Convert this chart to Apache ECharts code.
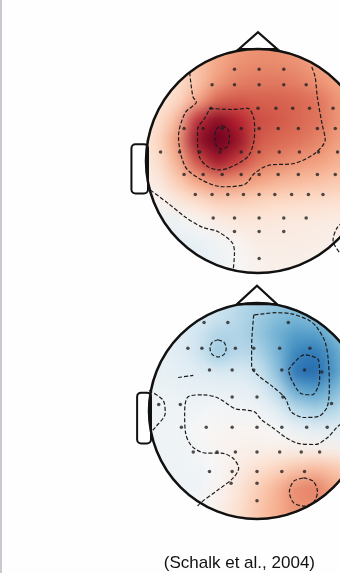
<!DOCTYPE html>
<html>
<head>
<meta charset="utf-8">
<script src="https://cdn.jsdelivr.net/npm/echarts@6/dist/echarts.min.js"></script>
<style>
  html, body { margin: 0; padding: 0; background: #fefefe; overflow: hidden; }
  #page { position: relative; width: 340px; height: 573px; overflow: hidden; }
  #page::before { content: ''; position: absolute; left: 0; top: 0; bottom: 0; width: 2px; background: #c9c9d1; z-index: 5; }
  .layer { position: absolute; left: 0; top: 0; height: 573px; }
  .field { width: 420px; }
  #overlay { width: 340px; }
</style>
</head>
<body>
<div id="page">
  <div id="fieldTop" class="layer field"></div>
  <div id="fieldBottom" class="layer field"></div>
  <div id="overlay" class="layer"></div>
</div>
<script>
// sample grid: 13 x 13 points, head units from -1.08 to 1.08 (step 0.18), rows top -> bottom
const sampleIdx = ['0', '1', '2', '3', '4', '5', '6', '7', '8', '9', '10', '11', '12']
const sampleStep = 0.18

// top map (red, 'activity')
const topField = [
  [0.20, 0.20, 0.25, 0.30, 0.38, 0.42, 0.45, 0.45, 0.42, 0.38, 0.35, 0.30, 0.30],
  [0.15, 0.18, 0.22, 0.30, 0.38, 0.45, 0.47, 0.47, 0.45, 0.40, 0.35, 0.30, 0.30],
  [0.10, 0.12, 0.18, 0.28, 0.42, 0.50, 0.52, 0.52, 0.50, 0.45, 0.40, 0.35, 0.30],
  [0.10, 0.12, 0.20, 0.38, 0.58, 0.62, 0.60, 0.60, 0.58, 0.55, 0.45, 0.38, 0.32],
  [0.10, 0.15, 0.32, 0.75, 0.92, 0.78, 0.65, 0.62, 0.58, 0.55, 0.45, 0.38, 0.32],
  [0.10, 0.20, 0.42, 0.88, 1.00, 0.88, 0.62, 0.58, 0.55, 0.50, 0.42, 0.35, 0.30],
  [0.08, 0.15, 0.35, 0.65, 0.85, 0.70, 0.55, 0.50, 0.45, 0.42, 0.36, 0.30, 0.28],
  [0.05, 0.10, 0.25, 0.40, 0.48, 0.45, 0.40, 0.35, 0.32, 0.30, 0.27, 0.25, 0.22],
  [0.00, 0.02, 0.10, 0.18, 0.24, 0.24, 0.22, 0.20, 0.19, 0.18, 0.16, 0.15, 0.14],
  [-0.10, -0.08, -0.05, 0.02, 0.08, 0.12, 0.12, 0.11, 0.10, 0.09, 0.08, 0.08, 0.08],
  [-0.12, -0.12, -0.10, -0.08, -0.03, 0.03, 0.08, 0.08, 0.08, 0.07, 0.06, 0.06, 0.06],
  [-0.12, -0.12, -0.12, -0.10, -0.06, 0.00, 0.05, 0.06, 0.06, 0.05, 0.05, 0.05, 0.05],
  [-0.12, -0.12, -0.12, -0.10, -0.06, 0.00, 0.05, 0.06, 0.06, 0.05, 0.05, 0.05, 0.05]
]

// bottom map (mostly blue)
const bottomField = [
  [-0.10, -0.10, -0.12, -0.15, -0.20, -0.25, -0.30, -0.35, -0.35, -0.30, -0.25, -0.20, -0.20],
  [-0.10, -0.10, -0.12, -0.15, -0.20, -0.28, -0.35, -0.42, -0.45, -0.40, -0.32, -0.25, -0.22],
  [-0.10, -0.10, -0.12, -0.20, -0.30, -0.30, -0.38, -0.48, -0.55, -0.55, -0.45, -0.32, -0.25],
  [-0.10, -0.10, -0.12, -0.20, -0.38, -0.28, -0.30, -0.45, -0.66, -0.72, -0.55, -0.38, -0.28],
  [-0.08, -0.08, -0.10, -0.12, -0.15, -0.15, -0.20, -0.40, -0.75, -0.80, -0.58, -0.38, -0.28],
  [-0.06, -0.06, -0.07, -0.08, -0.08, -0.08, -0.10, -0.25, -0.50, -0.55, -0.45, -0.30, -0.22],
  [-0.05, -0.05, -0.05, -0.03, -0.01, -0.02, -0.03, -0.10, -0.25, -0.32, -0.28, -0.20, -0.15],
  [-0.05, -0.05, -0.04, 0.00, 0.02, 0.02, 0.02, 0.00, -0.06, -0.10, -0.10, -0.08, -0.06],
  [-0.05, -0.05, -0.05, -0.02, 0.02, 0.05, 0.06, 0.06, 0.06, 0.05, 0.04, 0.04, 0.04],
  [-0.05, -0.05, -0.05, -0.04, 0.00, 0.08, 0.16, 0.22, 0.28, 0.32, 0.28, 0.22, 0.20],
  [-0.05, -0.05, -0.05, -0.04, 0.02, 0.12, 0.24, 0.34, 0.48, 0.52, 0.40, 0.32, 0.28],
  [-0.05, -0.05, -0.04, -0.02, 0.05, 0.16, 0.27, 0.36, 0.46, 0.46, 0.36, 0.30, 0.26],
  [-0.05, -0.05, -0.04, -0.02, 0.05, 0.16, 0.27, 0.35, 0.42, 0.42, 0.34, 0.28, 0.26]
]

// electrode positions, head units [u, v]
const topElectrodes = [
  [-0.21, 0.82], [0.01, 0.82], [0.23, 0.82],
  [-0.41, 0.68], [-0.21, 0.68], [0.01, 0.68], [0.23, 0.68], [0.43, 0.68],
  [-0.42, 0.47], [0.00, 0.47], [0.16, 0.47], [0.31, 0.47], [0.46, 0.47], [0.67, 0.47],
  [-0.66, 0.29], [-0.49, 0.29], [-0.32, 0.29], [-0.15, 0.29], [0.01, 0.29], [0.18, 0.29], [0.36, 0.29], [0.53, 0.29], [0.69, 0.29],
  [-0.87, 0.08], [-0.70, 0.08], [-0.52, 0.08], [-0.34, 0.08], [-0.15, 0.08], [0.01, 0.08], [0.19, 0.08], [0.37, 0.08], [0.54, 0.08], [0.71, 0.08],
  [-0.66, -0.12], [-0.49, -0.12], [-0.32, -0.12], [-0.15, -0.12], [0.01, -0.12], [0.18, -0.12], [0.36, -0.12], [0.53, -0.12], [0.69, -0.12],
  [-0.56, -0.30], [-0.41, -0.30], [-0.27, -0.30], [-0.13, -0.30], [0.01, -0.30], [0.15, -0.30], [0.30, -0.30], [0.45, -0.30], [0.58, -0.30],
  [-0.40, -0.51], [-0.21, -0.51], [0.01, -0.51], [0.23, -0.51], [0.43, -0.51],
  [-0.21, -0.63], [0.01, -0.63], [0.23, -0.63],
  [0.01, -0.87]
]
const bottomElectrodes = [
  [-0.49, 0.82], [-0.27, 0.82], [0.29, 0.82],
  [-0.64, 0.58], [-0.51, 0.58], [-0.20, 0.58], [-0.03, 0.58], [0.21, 0.58], [0.49, 0.58],
  [-0.44, 0.38], [-0.23, 0.38], [-0.03, 0.38], [0.23, 0.38], [0.44, 0.38], [0.60, 0.36],
  [-0.23, 0.13], [0.00, 0.13], [0.24, 0.13], [0.69, 0.07],
  [-0.91, 0.06], [-0.71, 0.06],
  [-0.70, -0.15], [-0.47, -0.15], [-0.23, -0.15], [0.00, -0.15], [0.23, -0.15], [0.46, -0.15], [0.65, -0.15],
  [-0.59, -0.38], [-0.37, -0.38], [-0.20, -0.38], [0.00, -0.38], [0.21, -0.38], [0.41, -0.38], [0.58, -0.38],
  [-0.44, -0.56], [-0.23, -0.56], [0.00, -0.56], [0.23, -0.56], [0.44, -0.56],
  [-0.24, -0.67], [0.00, -0.67],
  [0.00, -0.83]
]

// contour lines, head units
const topContours = [
  [[-0.61, 0.79], [-0.58, 0.57], [-0.55, 0.53], [-0.65, 0.43], [-0.71, 0.22], [-0.65, -0.05], [-0.50, -0.17],
   [-0.32, -0.23], [-0.12, -0.21], [-0.03, -0.11], [0.09, -0.04], [0.33, -0.02], [0.51, 0.07], [0.60, 0.19],
   [0.57, 0.34], [0.53, 0.57], [0.51, 0.75], [0.48, 0.84]],
  [[-0.43, 0.47], [-0.23, 0.46], [-0.09, 0.47], [-0.04, 0.39], [-0.03, 0.28], [-0.04, 0.16], [-0.09, 0.04],
   [-0.21, -0.04], [-0.34, -0.08], [-0.45, -0.05], [-0.52, 0.03], [-0.54, 0.16], [-0.54, 0.28], [-0.47, 0.39], [-0.43, 0.47]],
  [[-0.32, 0.315], [-0.27, 0.285], [-0.255, 0.21], [-0.27, 0.135], [-0.32, 0.105], [-0.37, 0.135], [-0.385, 0.21], [-0.37, 0.285], [-0.32, 0.315]],
  [[-0.96, -0.26], [-0.80, -0.38], [-0.65, -0.50], [-0.50, -0.59], [-0.36, -0.63], [-0.23, -0.73], [-0.21, -0.82], [-0.22, -0.96]],
  [[0.80, -0.52], [0.71, -0.59], [0.67, -0.71], [0.73, -0.82]]
]
const bottomContours = [
  [[-0.03, 0.89], [-0.05, 0.60], [-0.05, 0.41], [0.01, 0.33], [0.14, 0.23], [0.26, 0.12], [0.32, -0.01], [0.44, -0.06],
   [0.57, -0.05], [0.65, 0.04], [0.67, 0.23], [0.66, 0.47], [0.63, 0.64], [0.55, 0.78], [0.48, 0.84], [0.32, 0.90],
   [0.17, 0.91], [0.06, 0.90], [-0.03, 0.89]],
  [[0.29, 0.38], [0.44, 0.52], [0.57, 0.47], [0.58, 0.29], [0.51, 0.15], [0.41, 0.16], [0.32, 0.29], [0.29, 0.38]],
  [[-0.36, 0.66], [-0.305, 0.635], [-0.285, 0.58], [-0.305, 0.525], [-0.36, 0.50], [-0.415, 0.525], [-0.435, 0.58], [-0.415, 0.635], [-0.36, 0.66]],
  [[0.78, -0.12], [0.74, -0.15], [0.66, -0.24], [0.54, -0.31], [0.38, -0.30], [0.26, -0.24], [0.14, -0.15], [0.04, -0.08],
   [-0.02, -0.01], [-0.11, 0.01], [-0.20, 0.02], [-0.36, 0.12], [-0.50, 0.15], [-0.64, 0.13], [-0.67, -0.02], [-0.66, -0.21],
   [-0.60, -0.33], [-0.47, -0.39], [-0.33, -0.39], [-0.22, -0.44], [-0.17, -0.53], [-0.22, -0.62], [-0.36, -0.73],
   [-0.51, -0.84], [-0.56, -0.89]],
  [[-1.00, 0.19], [-0.87, 0.10], [-0.85, -0.02], [-0.94, -0.15], [-1.00, -0.21]],
  [[-0.73, 0.31], [-0.59, 0.33]],
  [[0.43, -0.62], [0.52, -0.65], [0.56, -0.75], [0.52, -0.85], [0.43, -0.88], [0.34, -0.85], [0.30, -0.75], [0.34, -0.65], [0.43, -0.62]]
]

// RdBu_r colour map, -1 .. 1
const rdbu = ['#053061', '#2166ac', '#4393c3', '#92c5de', '#d1e5f0', '#f7f7f7', '#fddbc7', '#f4a582', '#d6604d', '#b2182b', '#67001f']

// layout of the two heads (pixels) and the drawing of nose / ear (head units)
const heads = [
  { cx: 258, cy: 161, r: 112, nose: { w: 0.17, base: 1.0, tip: 1.15 }, ear: { x0: -1.13, y0: 0.15, y1: -0.29 } },
  { cx: 257, cy: 411, r: 108, nose: { w: 0.185, base: 0.99, tip: 1.16 }, ear: { x0: -1.11, y0: 0.17, y1: -0.30 } }
]

function fieldOption (head, field) {
  const cells = []
  field.forEach((row, r) => row.forEach((v, c) => cells.push([c, r, v])))
  const span = sampleStep * field.length * head.r
  return {
    animation: false,
    grid: { left: head.cx - span / 2, top: head.cy - span / 2, width: span, height: span, outerBoundsMode: 'none' },
    xAxis: { type: 'category', data: sampleIdx, show: false },
    yAxis: { type: 'category', data: sampleIdx, show: false, inverse: true },
    visualMap: { show: false, min: -1, max: 1, dimension: 2, inRange: { color: rdbu } },
    series: [{ type: 'heatmap', data: cells, itemStyle: { borderWidth: 0 }, emphasis: { disabled: true }, progressive: 0 }]
  }
}

function initField (id, head, field) {
  const el = document.getElementById(id)
  el.style.filter = 'blur(8px)'
  el.style.clipPath = `circle(${head.r + 1}px at ${head.cx}px ${head.cy}px)`
  const chart = echarts.init(el)
  chart.setOption(fieldOption(head, field))
}
initField('fieldTop', heads[0], topField)
initField('fieldBottom', heads[1], bottomField)

// outlines, electrodes and contours on top
const ext = 1.25
const overlay = echarts.init(document.getElementById('overlay'))
const grids = heads.map(h => ({
  left: h.cx - ext * h.r, top: h.cy - ext * h.r, width: 2 * ext * h.r, height: 2 * ext * h.r, outerBoundsMode: 'none'
}))
const axis = { type: 'value', min: -ext, max: ext, show: false }

function headRender (head) {
  return function (params, api) {
    const c = api.coord([0, 0])
    const rad = api.size([1, 1])[0]
    const p = (u, v) => api.coord([u, v])
    const e0 = p(head.ear.x0, head.ear.y0)
    const e1 = p(-1.0, head.ear.y1)
    const n = head.nose
    const line = { stroke: '#111', lineWidth: 2.2, fill: 'none' }
    return {
      type: 'group',
      children: [
        { type: 'rect', shape: { x: e0[0], y: e0[1], width: e1[0] - e0[0] + 2, height: e1[1] - e0[1], r: 4 }, style: { fill: '#fff', stroke: '#111', lineWidth: 2 } },
        { type: 'circle', shape: { cx: c[0], cy: c[1], r: rad }, style: { fill: 'none', stroke: '#111', lineWidth: 2.5 } },
        { type: 'polygon', shape: { points: [p(-n.w, n.base), p(0, n.tip), p(n.w, n.base)] }, style: line }
      ]
    }
  }
}

const series = []
heads.forEach((h, i) => {
  const contours = i === 0 ? topContours : bottomContours
  contours.forEach(c => series.push({
    type: 'line', xAxisIndex: i, yAxisIndex: i, data: c, symbol: 'none', smooth: 0.3, silent: true, z: 3,
    lineStyle: { color: '#1c1c1c', width: 1.2, type: [4, 2] }
  }))
  series.push({
    type: 'scatter', xAxisIndex: i, yAxisIndex: i, data: i === 0 ? topElectrodes : bottomElectrodes,
    symbolSize: 3.5, itemStyle: { color: '#222' }, silent: true, z: 4
  })
  series.push({
    type: 'custom', xAxisIndex: i, yAxisIndex: i, data: [[0, 0]], renderItem: headRender(h), silent: true, z: 5
  })
})

overlay.setOption({
  animation: false,
  title: {
    text: '(Schalk et al., 2004)', right: 20, top: 550,
    textStyle: { fontFamily: 'Liberation Sans', fontSize: 17, fontWeight: 'normal', color: '#111' }
  },
  grid: grids,
  xAxis: [Object.assign({ gridIndex: 0 }, axis), Object.assign({ gridIndex: 1 }, axis)],
  yAxis: [Object.assign({ gridIndex: 0 }, axis), Object.assign({ gridIndex: 1 }, axis)],
  series: series
})
</script>
</body>
</html>
